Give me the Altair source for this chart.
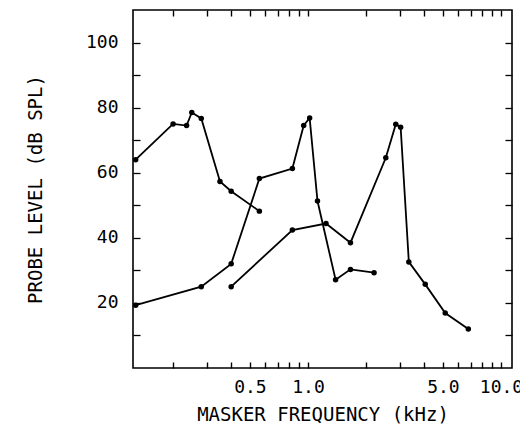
import altair as alt
import pandas as pd

# Masker frequency (kHz) and probe level (dB SPL) for the three curves
freq_a = [0.128, 0.2, 0.235, 0.25, 0.28, 0.35, 0.4, 0.56]
level_a = [64, 75, 74.5, 78.5, 76.7, 57.3, 54.3, 48.2]

freq_b = [0.128, 0.28, 0.4, 0.56, 0.83, 0.95, 1.02, 1.12, 1.39, 1.66, 2.2]
level_b = [19.3, 25, 32, 58.2, 61.3, 74.5, 76.8, 51.3, 27.1, 30.3, 29.3]

freq_c = [0.4, 0.83, 1.24, 1.66, 2.53, 2.85, 3.02, 3.33, 4.05, 5.14, 6.77]
level_c = [25, 42.4, 44.4, 38.5, 64.6, 74.9, 74, 32.6, 25.7, 16.9, 12]

x_tick_values = [0.2, 0.3, 0.4, 0.5, 0.6, 0.7, 0.8, 0.9, 1, 2, 3, 4, 5, 6, 7, 8, 9, 10]
y_tick_values = [10, 20, 30, 40, 50, 60, 70, 80, 90, 100]
x_label_values = [0.5, 1.0, 5.0, 10.0]
y_label_values = [20, 40, 60, 80, 100]

rows = []
for name, fs, ls in (("A", freq_a, level_a), ("B", freq_b, level_b), ("C", freq_c, level_c)):
    for f, l in zip(fs, ls):
        rows.append({"series": name, "freq": f, "level": l})
df = pd.DataFrame(rows)

W, H = 379, 358
FONT = "DejaVu Sans Mono"
xscale = alt.Scale(type="log", domain=[0.124, 11.4], nice=False)
yscale = alt.Scale(domain=[0, 110], nice=False, zero=False)

xl = "[" + ",".join(str(v) for v in x_label_values) + "]"
yl = "[" + ",".join(str(v) for v in y_label_values) + "]"

x_axis = alt.Axis(values=x_tick_values, tickSize=6, offset=-6, tickColor="black", tickWidth=1.4,
                  domain=False, grid=False,
                  labelExpr=f"indexof({xl}, datum.value) >= 0 ? format(datum.value, '.1f') : ''",
                  labelFont=FONT, labelFontSize=18, labelColor="black", labelPadding=10,
                  labelFlush=False, labelOverlap=False,
                  title="MASKER FREQUENCY  (kHz)", titleFont=FONT, titleFontSize=19,
                  titleFontWeight="normal", titleColor="black", titlePadding=9)
y_axis = alt.Axis(values=y_tick_values, tickSize=7, offset=-7, tickColor="black", tickWidth=1.3,
                  domain=False, grid=False,
                  labelExpr=f"indexof({yl}, datum.value) >= 0 ? datum.value : ''",
                  labelFont=FONT, labelFontSize=18, labelColor="black", labelPadding=15,
                  labelOverlap=False,
                  title="PROBE LEVEL  (dB SPL)", titleFont=FONT, titleFontSize=19,
                  titleFontWeight="normal", titleColor="black", titlePadding=40)
x_axis_top = alt.Axis(orient="top", values=x_tick_values, tickSize=6, offset=-6, tickColor="black",
                      tickWidth=1.4, domain=False, grid=False, labels=False, title=None)
y_axis_right = alt.Axis(orient="right", values=y_tick_values, tickSize=7, offset=-7, tickColor="black",
                        tickWidth=1.3, domain=False, grid=False, labels=False, title=None)

main = alt.Chart(df).mark_line(
    color="black", strokeWidth=1.8,
    point=alt.OverlayMarkDef(filled=True, color="black", size=30, opacity=1),
).encode(
    x=alt.X("freq:Q", scale=xscale, axis=x_axis),
    y=alt.Y("level:Q", scale=yscale, axis=y_axis),
    detail="series:N",
)

frame = alt.Chart(df).mark_point(opacity=0).encode(
    x=alt.X("freq:Q", scale=xscale, axis=x_axis_top),
    y=alt.Y("level:Q", scale=yscale, axis=y_axis_right),
)

chart = alt.layer(main, frame).resolve_axis(x="independent", y="independent").resolve_scale(
    x="shared", y="shared"
).properties(
    width=W, height=H,
    autosize=alt.AutoSizeParams(type="none"),
    padding={"left": 133, "top": 10, "right": 8, "bottom": 58},
    background="white",
).configure_view(stroke="black", strokeWidth=1.6)

chart.save("out.html", embed_options={"renderer": "svg", "actions": False})
